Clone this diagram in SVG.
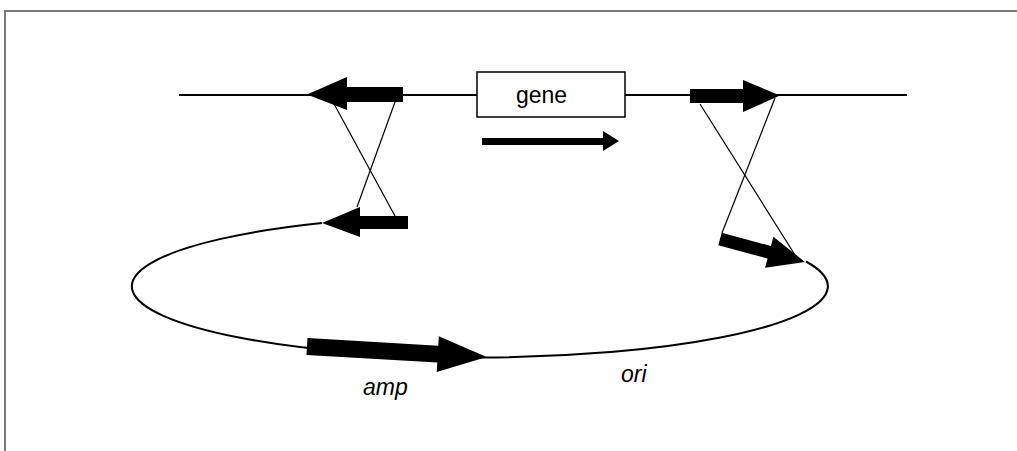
<svg xmlns="http://www.w3.org/2000/svg" width="1017" height="451" viewBox="0 0 1017 451">
  <style>
    .frame { fill: none; stroke: #7a7a7a; stroke-width: 2; }
    .dna { fill: none; stroke: #000; stroke-width: 2; }
    .cross { fill: none; stroke: #000; stroke-width: 1.2; }
    .box { fill: #fff; stroke: #000; stroke-width: 1.5; }
    .arrow { fill: #000; stroke: none; }
    .label { font-family: "Liberation Sans", Arial, sans-serif; font-size: 23px; fill: #000; }
    .italic { font-style: italic; }
  </style>
  <rect width="1017" height="451" fill="#fff"/>
  <polyline class="frame" points="5,451 5,11 1017,11"/>

  <!-- chromosome strand -->
  <g id="chromosome">
    <line class="dna" x1="179" y1="95" x2="907" y2="95"/>
  </g>

  <!-- plasmid backbone: open between the two flanking arrows -->
  <g id="plasmid">
    <path class="dna" d="M322,223 A348,71 0 1,0 806,261.5"/>
  </g>

  <!-- recombination crossovers -->
  <g id="connectors">
    <line class="cross" x1="333" y1="102" x2="395" y2="216"/>
    <line class="cross" x1="395" y1="102" x2="357" y2="207"/>
    <line class="cross" x1="700" y1="104" x2="795" y2="255"/>
    <line class="cross" x1="775" y1="98" x2="722" y2="233"/>
  </g>

  <g id="left-flank-chromosome">
    <polygon class="arrow" points="403,87 347,87 347,77 307,94.5 347,110 347,102 403,102"/>
  </g>

  <g id="right-flank-chromosome">
    <polygon class="arrow" points="690,89 743,89 743,80 780,95.5 743,112 743,103 690,103"/>
  </g>

  <g id="gene">
    <rect class="box" x="477" y="72" width="148" height="45"/>
    <text class="label" x="516" y="103">gene</text>
  </g>

  <g id="gene-direction">
    <polygon class="arrow" points="482,138 603,138 603,131 619,141 603,151 603,145 482,145"/>
  </g>

  <g id="left-flank-plasmid">
    <polygon class="arrow" points="408,216 360,216 360,207 322,223 360,237 360,229 408,229"/>
  </g>

  <g id="right-flank-plasmid">
    <polygon class="arrow" transform="translate(720,239) rotate(15.1)" points="0,-6.5 51,-6.5 51,-16 88,0 51,16 51,6.5 0,6.5"/>
  </g>

  <g id="amp">
    <polygon class="arrow" transform="translate(307,346.5) rotate(3.34)" points="0,-8.5 131,-8.5 131,-18 180,0 131,18 131,8.5 0,8.5"/>
    <text class="label italic" x="363" y="395">amp</text>
  </g>

  <g id="ori">
    <text class="label italic" x="621" y="382">ori</text>
  </g>
</svg>
